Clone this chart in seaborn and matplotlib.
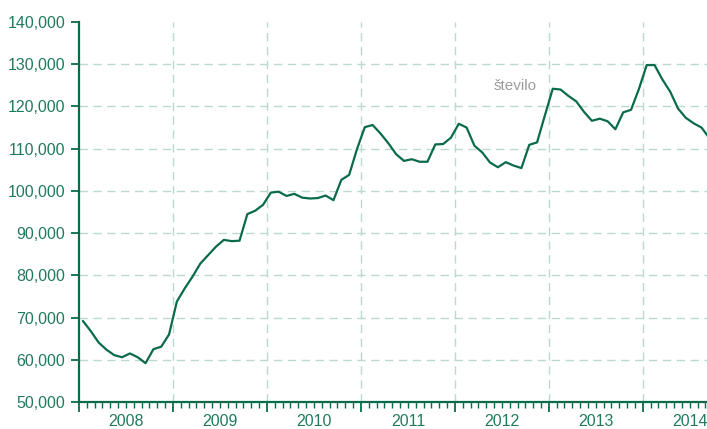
import matplotlib
matplotlib.use("Agg")
import matplotlib.pyplot as plt
from matplotlib.ticker import FixedLocator, FuncFormatter
import seaborn as sns
import pandas as pd

# monthly values, Jan 2008 - Sep 2014
years = ["2008", "2009", "2010", "2011", "2012", "2013", "2014"]
v2008 = [69200, 66800, 64100, 62400, 61100, 60600, 61500, 60600, 59200, 62500, 63100, 66000]
v2009 = [73800, 76900, 79700, 82800, 84800, 86800, 88400, 88100, 88200, 94500, 95300, 96700]
v2010 = [99600, 99800, 98800, 99300, 98400, 98200, 98300, 98900, 97800, 102600, 103800, 109900]
v2011 = [115100, 115600, 113600, 111300, 108700, 107100, 107500, 106900, 106900, 111000, 111100, 112600]
v2012 = [115900, 115000, 110700, 109100, 106700, 105600, 106800, 106000, 105400, 110900, 111500, 117900]
v2013 = [124200, 124000, 122500, 121200, 118700, 116600, 117100, 116500, 114600, 118600, 119200, 124100]
v2014 = [129800, 129800, 126400, 123500, 119500, 117300, 116000, 115000, 112500]
series_name = "število"

values = v2008 + v2009 + v2010 + v2011 + v2012 + v2013 + v2014
df = pd.DataFrame({"month": [i + 0.5 for i in range(len(values))], "count": values})

GREEN = "#0a6b4c"
TEXT = "#217a5e"
GRID = "#bcd9cc"

sns.set_style("white")
plt.rcParams["font.family"] = ["Liberation Sans", "DejaVu Sans"]

fig = plt.figure(figsize=(7.07, 4.29), dpi=100)
ax = fig.add_axes([79 / 707, 27 / 429, 628 / 707, 380 / 429])

sns.lineplot(data=df, x="month", y="count", ax=ax, color=GREEN, linewidth=1.6, clip_on=True)

ax.set_xlim(0, 80.2)
ax.set_ylim(50000, 140000)

# y axis
ax.yaxis.set_major_locator(FixedLocator(range(50000, 140001, 10000)))
ax.yaxis.set_major_formatter(FuncFormatter(lambda v, p: f"{int(v):,}"))
ax.tick_params(axis="y", direction="out", length=6, width=1.3, color=GREEN,
               labelcolor=TEXT, labelsize=11.5, pad=4, left=True)

# x axis: year boundaries + monthly minor ticks
ax.xaxis.set_major_locator(FixedLocator(range(0, 81, 12)))
ax.xaxis.set_minor_locator(FixedLocator(range(0, 81)))
ax.tick_params(axis="x", which="major", direction="out", length=7, width=1.3,
               color=GREEN, labelbottom=False, bottom=True)
ax.tick_params(axis="x", which="minor", direction="out", length=4, width=1,
               color=GREEN, bottom=True)
for k, yr in enumerate(years):
    ax.text(k * 12 + 6, -24.5 / 380, yr, transform=ax.get_xaxis_transform(),
            ha="center", va="baseline", fontsize=11.5, color=TEXT)

ax.set_xlabel("")
ax.set_ylabel("")

# dashed grid
ax.grid(True, which="major", color=GRID, linestyle=(0, (6, 4)), linewidth=1)
ylines = ax.get_ygridlines()
ylines[0].set_visible(False)
ylines[-1].set_visible(False)
ax.get_xgridlines()[0].set_visible(False)
ax.set_axisbelow(True)

for side in ["top", "right"]:
    ax.spines[side].set_visible(False)
for side in ["left", "bottom"]:
    ax.spines[side].set_color(GREEN)
    ax.spines[side].set_linewidth(1.6)

ax.text(53.0, 124900, series_name, ha="left", va="center", fontsize=11, color="#9c9c9c")

fig.savefig("out.png", dpi=100)
